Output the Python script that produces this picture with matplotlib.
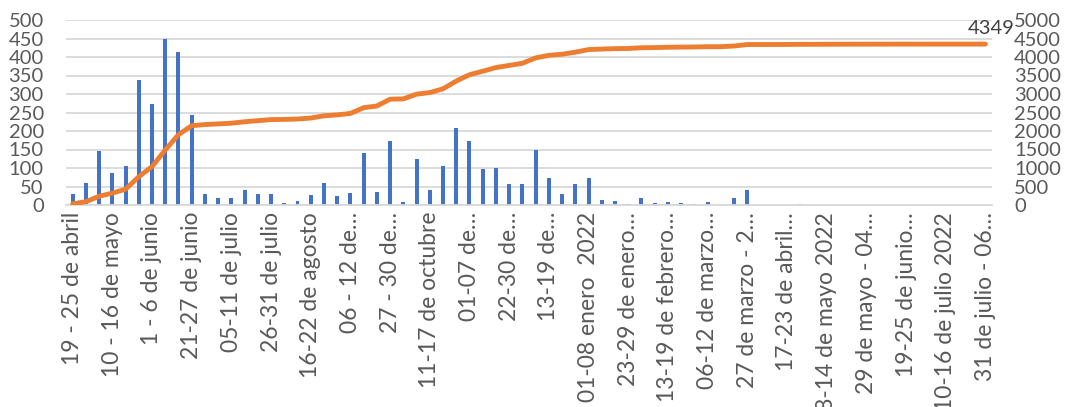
import numpy as np
import matplotlib.pyplot as plt

# casos semanales (barras, eje izquierdo)
semanal = [30, 60, 145, 86, 105, 337, 274, 449, 414, 243,
           31, 18, 18, 40, 29, 29, 5, 11, 27, 59,
           25, 32, 140, 34, 173, 7, 124, 40, 105, 207,
           173, 97, 101, 58, 58, 150, 72, 29, 58, 72,
           14, 11, 3, 20, 5, 8, 5, 3, 8, 0,
           18, 40, 0, 1, 1, 3, 1, 1, 1, 1,
           1, 0, 1, 1, 0, 1, 0, 1, 0, 0]

# acumulado (linea, eje derecho)
acumulado = [30, 90, 235, 321, 426, 763, 1037, 1486, 1900, 2143,
             2174, 2192, 2210, 2250, 2279, 2308, 2313, 2324, 2351, 2410,
             2435, 2475, 2630, 2675, 2860, 2868, 2995, 3038, 3140, 3350,
             3520, 3615, 3715, 3772, 3830, 3975, 4045, 4075, 4130, 4200,
             4215, 4226, 4230, 4250, 4255, 4263, 4268, 4271, 4279, 4279,
             4297, 4337, 4337, 4338, 4339, 4342, 4343, 4344, 4345, 4346,
             4347, 4347, 4348, 4348, 4348, 4349, 4349, 4349, 4349, 4349]

etiquetas = ["19 - 25 de abril", "10 - 16 de mayo", "1 - 6 de junio",
             "21-27 de junio", "05-11 de julio", "26-31 de julio",
             "16-22 de agosto", "06 - 12 de…", "27 - 30 de…",
             "11-17 de octubre", "01-07 de…", "22-30 de…", "13-19 de…",
             "01-08 enero  2022", "23-29 de enero…", "13-19 de febrero…",
             "06-12 de marzo…", "27 de marzo - 2…", "17-23 de abril…",
             "08-14 de mayo 2022", "29 de mayo - 04…", "19-25 de junio…",
             "10-16 de julio 2022", "31 de julio - 06…"]

plt.rcParams['font.family'] = ['Lato', 'DejaVu Sans']
gris = '#595959'

x = np.arange(len(semanal))

fig = plt.figure(figsize=(10.65, 4.07), dpi=100)
ax = fig.add_axes([66/1065, 1 - 205/407, (992 - 66)/1065, 185/407])

ax.bar(x, semanal, width=0.3, color='#4472C4', zorder=2)
ax.set_xlim(-0.5, len(semanal) - 0.5)
ax.set_ylim(0, 500)
ax.set_yticks(np.arange(0, 501, 50))
ax.grid(axis='y', color='#D9D9D9', lw=1.3, zorder=0)
ax.set_axisbelow(True)
for s in ['top', 'right', 'left']:
    ax.spines[s].set_visible(False)
ax.spines['bottom'].set_color('#D9D9D9')
ax.spines['bottom'].set_linewidth(1.3)

ax.set_xticks(x[::3])
ax.set_xticklabels(etiquetas, rotation=90, ha='center', va='top')
ax.tick_params(axis='x', length=0, pad=5, labelsize=16.5, labelcolor=gris)
ax.tick_params(axis='y', length=0, pad=16, labelsize=14.5, labelcolor=gris)

ax2 = ax.twinx()
ax2.plot(x, acumulado, color='#ED7D31', lw=3.5, solid_capstyle='round', zorder=3)
ax2.set_ylim(0, 5000)
ax2.set_yticks(np.arange(0, 5001, 500))
ax2.tick_params(axis='y', length=0, pad=16, labelsize=14.5, labelcolor=gris)
for s in ['top', 'right', 'left', 'bottom']:
    ax2.spines[s].set_visible(False)

ax2.annotate(str(acumulado[-1]), (x[-1], acumulado[-1]), xytext=(4, 5),
             textcoords='offset points', ha='center', va='bottom',
             fontsize=14.5, color='#404040')

fig.savefig('out.png', dpi=100)
